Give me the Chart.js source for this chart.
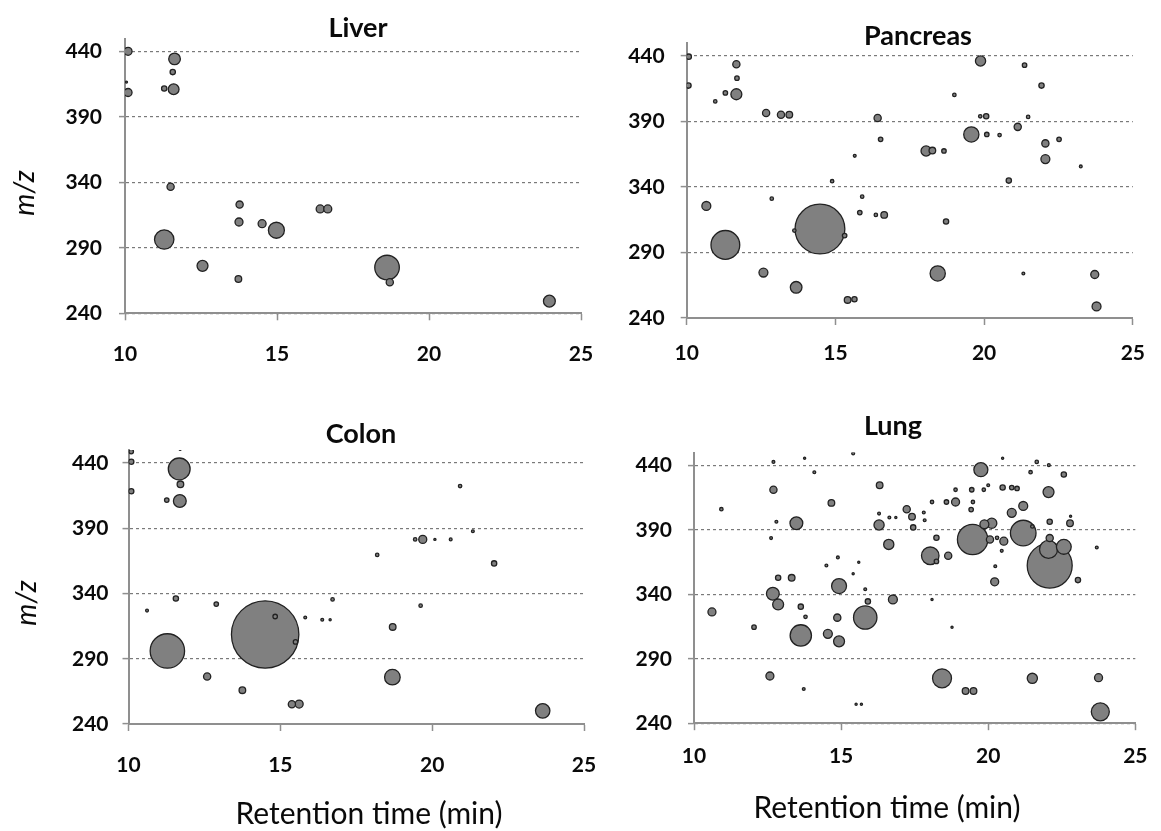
<!DOCTYPE html>
<html>
<head>
<meta charset="utf-8">
<script src="https://cdn.jsdelivr.net/npm/chart.js@4.4.0/dist/chart.umd.min.js"></script>
<style>
html,body{margin:0;padding:0;background:#fff;}
#wrap{position:relative;width:1161px;height:831px;overflow:hidden;background:#fff;}
#wrap canvas{position:absolute;}
</style>
</head>
<body>
<div id="wrap">
  <canvas id="cLiver" width="620" height="415" style="left:0px;top:0px"></canvas>
  <canvas id="cPancreas" width="601" height="415" style="left:560px;top:0px"></canvas>
  <canvas id="cColon" width="620" height="416" style="left:0px;top:415px"></canvas>
  <canvas id="cLung" width="601" height="416" style="left:560px;top:415px"></canvas>
</div>
<script>
// ---------------- DATA ----------------
const xTicks = [10, 15, 20, 25];
const yTicks = [240, 290, 340, 390, 440];
const X_MIN = 10, X_MAX = 25, Y_MIN = 240, Y_MAX = 450;
const xAxisTitle = 'Retention time (min)';
const yAxisTitle = 'm/z';

// Liver: retention time (min), m/z, relative abundance
const liverRt = [10.1, 10.1, 10.05, 11.63, 11.57, 11.29, 11.6, 11.5, 11.29, 12.55, 13.77, 13.75, 13.73, 14.51, 14.98, 16.42, 16.67, 18.62, 18.71, 23.96];
const liverMz = [440.3, 408.8, 416.8, 434.5, 424.4, 411.8, 411.3, 336.7, 296.4, 276.3, 323.1, 309.8, 266.2, 308.5, 303.5, 319.8, 319.8, 275.0, 263.7, 249.3];
const liverAbund = [16, 16, 1, 34, 7, 7, 29, 13, 94, 30, 13, 16, 11, 16, 64, 16, 16, 151, 13, 35];

// Pancreas
const pancreasRt = [10.07, 10.06, 11.67, 11.69, 11.3, 11.67, 10.96, 12.67, 13.17, 13.45, 16.42, 16.52, 15.65, 14.89, 12.86, 10.66, 11.30, 14.48, 13.62, 15.31, 15.9, 15.82, 16.36, 16.64, 12.58, 13.68, 15.41, 15.64, 18.05, 18.26, 18.65, 18.72, 18.44, 19.88, 19.0, 19.87, 20.07, 19.57, 20.09, 20.52, 21.13, 21.48, 21.36, 21.93, 22.06, 22.52, 22.06, 23.25, 20.83, 21.32, 23.72, 23.78];
const pancreasMz = [439.5, 417.4, 433.7, 423.1, 411.8, 410.8, 405.3, 396.5, 395.2, 395.2, 392.7, 376.4, 363.8, 344.4, 331.1, 325.5, 295.8, 307.9, 306.7, 302.9, 332.6, 320.5, 318.7, 318.7, 274.7, 263.4, 253.8, 254.3, 367.5, 367.8, 367.5, 313.7, 274.0, 436.2, 410.3, 394.0, 394.0, 380.1, 380.1, 379.6, 385.9, 393.5, 433.0, 417.4, 373.3, 376.4, 361.3, 355.7, 344.9, 274.0, 273.2, 248.8];
const pancreasAbund = [7, 7, 13, 5, 5, 30, 3, 13, 13, 11, 13, 5, 2, 3, 3, 20, 207, 620, 3, 5, 3, 5, 3, 11, 20, 34, 11, 7, 26, 11, 5, 7, 58, 26, 3, 3, 7, 58, 5, 3, 13, 3, 5, 7, 13, 5, 20, 2, 7, 2, 16, 20];

// Colon
const colonRt = [10.09, 10.09, 10.09, 11.67, 11.71, 11.26, 11.69, 11.7, 10.61, 11.56, 12.89, 11.28, 14.50, 14.83, 15.5, 15.82, 16.38, 16.64, 16.72, 12.59, 13.75, 15.38, 15.62, 18.19, 19.44, 19.69, 20.09, 20.61, 21.34, 20.92, 22.04, 19.62, 18.70, 18.69, 23.64];
const colonMz = [448.8, 441.0, 418.4, 435.5, 423.7, 411.6, 410.9, 450.5, 326.9, 336.2, 331.9, 296.0, 308.6, 322.4, 302.9, 321.6, 319.9, 319.9, 335.5, 276.4, 265.9, 255.1, 255.3, 369.6, 381.5, 381.5, 381.5, 381.5, 387.7, 422.4, 363.1, 330.7, 314.4, 275.9, 250.1];
const colonAbund = [5, 7, 7, 119, 11, 5, 41, 1, 2, 7, 5, 296, 1136, 5, 5, 2, 2, 1.2, 3, 13, 11, 13, 16, 3, 3, 16, 1.2, 2, 2, 3, 7, 3, 11, 61, 52];

// Lung
const lungRt = [10.93, 10.61, 12.70, 12.70, 12.80, 12.62, 12.86, 13.32, 13.48, 13.76, 14.09, 15.41, 14.67, 12.68, 12.86, 13.63, 13.79, 12.04, 13.63, 14.50, 14.89, 15.41, 15.60, 14.93, 14.87, 14.55, 14.93, 15.82, 15.91, 15.82, 16.31, 16.29, 16.29, 16.64, 16.86, 16.62, 16.76, 12.58, 13.73, 15.51, 15.69, 17.23, 17.41, 17.45, 17.81, 17.84, 18.09, 18.24, 18.03, 18.24, 18.64, 18.09, 18.77, 18.43, 18.58, 18.89, 18.89, 19.44, 19.48, 19.42, 19.75, 19.85, 20.00, 20.49, 20.49, 20.80, 20.98, 19.87, 20.12, 19.47, 20.06, 20.30, 20.53, 20.46, 20.24, 20.22, 20.80, 21.19, 21.19, 21.50, 21.44, 21.65, 22.06, 22.57, 22.05, 22.09, 22.09, 22.05, 22.09, 22.57, 22.78, 22.80, 23.05, 23.69, 21.50, 23.75, 23.81, 19.23, 19.50];
const lungMz = [406.0, 326.3, 421.1, 442.7, 396.3, 383.6, 352.8, 352.8, 395.1, 445.6, 434.7, 449.3, 410.9, 340.4, 332.1, 330.4, 322.5, 314.5, 308.1, 362.3, 368.6, 356.0, 364.8, 346.4, 321.9, 309.3, 303.5, 343.9, 334.5, 322.0, 424.6, 402.6, 393.8, 399.6, 399.6, 378.7, 336.0, 276.6, 266.5, 254.7, 254.7, 406.0, 400.2, 391.9, 403.5, 397.4, 411.6, 383.9, 369.9, 365.5, 369.9, 336.0, 314.4, 274.8, 411.6, 411.6, 421.1, 421.1, 411.6, 405.7, 436.7, 421.1, 424.6, 445.5, 422.8, 422.8, 422.1, 394.3, 395.1, 382.5, 382.5, 383.8, 381.2, 373.7, 361.8, 349.7, 403.2, 408.5, 387.5, 392.6, 434.7, 442.7, 440.2, 432.9, 419.3, 396.3, 383.6, 374.8, 362.3, 376.8, 395.1, 400.6, 351.0, 376.3, 274.8, 275.3, 248.8, 265.0, 265.0];
const lungAbund = [3, 16, 13, 2, 2, 2, 7, 11, 41, 1.2, 2, 2, 11, 41, 30, 7, 3, 5, 114, 2, 2, 1.2, 1.2, 56, 13, 20, 30, 2, 7, 137, 11, 2, 26, 2, 1.2, 26, 20, 16, 2, 1.2, 1.2, 13, 11, 7, 2, 2, 3, 7, 77, 5, 13, 1.2, 1.2, 90, 5, 16, 3, 5, 3, 5, 49, 3, 2, 1.2, 7, 5, 5, 20, 26, 231, 13, 3, 16, 2, 2, 16, 20, 20, 164, 3, 3, 3, 2, 7, 30, 7, 13, 81, 506, 55, 11, 1.2, 7, 2, 26, 16, 81, 11, 11];

// ---------------- STYLE ----------------
const BUBBLE_SCALE = 1.0;           // radius (px) = sqrt(abundance) * scale
const FILL = '#808080';
const EDGE = '#222222';
const AXIS = '#8f8f8f';
const GRID = '#7a7a7a';
const TXT = '#0a0a0a';
const FONT = 'Lato, "DejaVu Sans", sans-serif';

const panelText = {
  id: 'panelText',
  afterDraw(chart, args, o) {
    const ctx = chart.ctx;
    ctx.save();
    ctx.fillStyle = o.color;
    ctx.textAlign = 'center';
    ctx.textBaseline = 'alphabetic';
    if (o.title) {
      ctx.font = o.titleFont;
      ctx.fillText(o.title, o.titleX, o.titleY);
    }
    if (o.xTitle) {
      ctx.font = o.xTitleFont;
      ctx.fillText(o.xTitle, o.xTitleX, o.xTitleY);
    }
    if (o.yTitle) {
      ctx.font = o.yTitleFont;
      ctx.translate(o.yTitleX, o.yTitleY);
      ctx.rotate(-Math.PI / 2);
      ctx.textBaseline = 'middle';
      ctx.fillText(o.yTitle, 0, 0);
    }
    ctx.restore();
  }
};

// o.area = {left, right, top, bottom} of the plotting area inside the canvas (canvas pixels)
function makePanel(id, title, rt, mz, ab, o) {
  const cv = document.getElementById(id);
  const W = cv.width, H = cv.height;
  const a = o.area;
  const pts = rt.map((x, i) => ({ x: x, y: mz[i], r: Math.sqrt(ab[i]) * BUBBLE_SCALE }))
                .sort((p, q) => q.r - p.r);
  const tickFont = { family: FONT, size: 21, weight: 'bold' };
  return new Chart(cv, {
    type: 'bubble',
    data: { datasets: [{ label: title, data: pts, backgroundColor: FILL, borderColor: EDGE, borderWidth: 1.3, hoverRadius: 0 }] },
    options: {
      responsive: false,
      devicePixelRatio: 1,
      animation: false,
      events: [],
      layout: { padding: { left: 0, right: W - a.right, top: a.top, bottom: 0 } },
      plugins: {
        legend: { display: false },
        tooltip: { enabled: false },
        title: { display: false },
        panelText: {
          color: TXT,
          title: title, titleFont: 'bold 27px ' + FONT, titleX: o.titleX, titleY: o.titleY,
          xTitle: o.xTitle ? xAxisTitle : null, xTitleFont: '30px ' + FONT, xTitleX: o.xTitleX, xTitleY: o.xTitleY,
          yTitle: o.yTitle ? yAxisTitle : null, yTitleFont: 'italic 28px ' + FONT, yTitleX: o.yTitleX, yTitleY: o.yTitleY
        }
      },
      scales: {
        x: {
          type: 'linear', position: 'bottom', min: X_MIN, max: X_MAX,
          afterFit: s => { s.height = H - a.bottom; },
          afterBuildTicks: s => { s.ticks = xTicks.map(v => ({ value: v })); },
          grid: { display: true, drawOnChartArea: false, drawTicks: true, tickLength: 7, tickColor: AXIS, tickWidth: 1.5 },
          border: { display: true, color: AXIS, width: 2 },
          ticks: { padding: o.xPad, color: TXT, font: tickFont, maxRotation: 0, autoSkip: false }
        },
        y: {
          type: 'linear', position: 'left', min: Y_MIN, max: Y_MAX,
          afterFit: s => { s.width = a.left; },
          afterBuildTicks: s => { s.ticks = yTicks.map(v => ({ value: v })); },
          grid: { display: true, drawOnChartArea: true, color: GRID, lineWidth: 1.2, drawTicks: true, tickLength: 6, tickColor: AXIS, tickWidth: 1.5 },
          border: { display: true, color: AXIS, width: 2, dash: [3, 3] },
          ticks: { padding: o.yPad, color: TXT, font: tickFont, autoSkip: false }
        }
      }
    },
    plugins: [panelText]
  });
}

makePanel('cLiver', 'Liver', liverRt, liverMz, liverAbund, {
  area: { left: 125, right: 581, top: 38.6, bottom: 313.3 }, xPad: 21, yPad: 17,
  titleX: 358, titleY: 37, yTitle: true, yTitleX: 25, yTitleY: 193
});
makePanel('cPancreas', 'Pancreas', pancreasRt, pancreasMz, pancreasAbund, {
  area: { left: 126.7, right: 581.7, top: 42.9, bottom: 318 }, xPad: 16, yPad: 16,
  titleX: 358, titleY: 45
});
makePanel('cColon', 'Colon', colonRt, colonMz, colonAbund, {
  area: { left: 128.5, right: 584, top: 29.2, bottom: 309 }, xPad: 22, yPad: 14,
  titleX: 361, titleY: 27.5, yTitle: true, yTitleX: 27, yTitleY: 188,
  xTitle: true, xTitleX: 369, xTitleY: 409
});
makePanel('cLung', 'Lung', lungRt, lungMz, lungAbund, {
  area: { left: 134, right: 589, top: 37.5, bottom: 308.2 }, xPad: 13.5, yPad: 16,
  titleX: 333, titleY: 20,
  xTitle: true, xTitleX: 327, xTitleY: 403
});
</script>
</body>
</html>
